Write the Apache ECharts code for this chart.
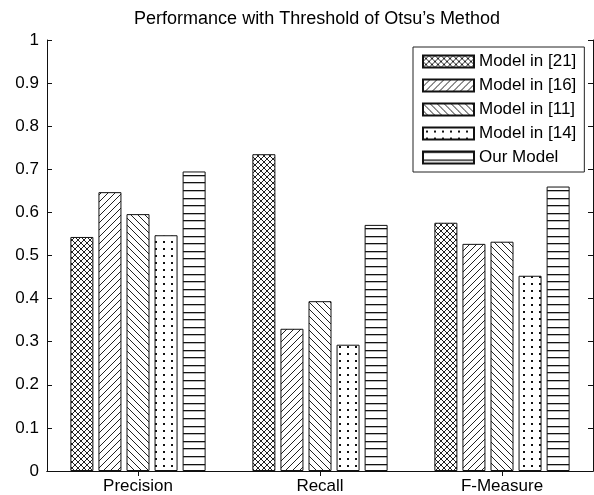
<!DOCTYPE html>
<html>
<head>
<meta charset="utf-8">
<script src="https://cdn.jsdelivr.net/npm/echarts@6/dist/echarts.min.js"></script>
<style>
html,body{margin:0;padding:0;background:#fff;}
#chart{width:594px;height:495px;}
</style>
</head>
<body>
<div id="chart"></div>
<script>
const categories = ['Precision', 'Recall', 'F-Measure'];
const seriesNames = ['Model in [21]', 'Model in [16]', 'Model in [11]', 'Model in [14]', 'Our Model'];
const model21 = [0.543, 0.735, 0.576];
const model16 = [0.647, 0.330, 0.527];
const model11 = [0.596, 0.394, 0.532];
const model14 = [0.547, 0.293, 0.453];
const ourModel = [0.695, 0.571, 0.660];
const yTicks = [0, 0.1, 0.2, 0.3, 0.4, 0.5, 0.6, 0.7, 0.8, 0.9, 1];

const FONT = 'Liberation Sans, Arial, Helvetica, sans-serif';

function pattern(type) {
  const c = document.createElement('canvas');
  let w = 8, h = 8;
  if (type === 'cross') { w = 6; h = 6; }
  if (type === 'fwd' || type === 'back') { w = 7; h = 7; }
  if (type === 'dots') { w = 8; h = 7; }
  if (type === 'horiz') { w = 4; h = 38; }
  c.width = w; c.height = h;
  const g = c.getContext('2d');
  g.fillStyle = '#fff';
  g.fillRect(0, 0, w, h);
  g.strokeStyle = '#222';
  g.fillStyle = '#111';
  g.lineWidth = 1;
  if (type === 'cross') {
    g.beginPath();
    g.moveTo(-1, -1); g.lineTo(w + 1, h + 1);
    g.moveTo(-1, h + 1); g.lineTo(w + 1, -1);
    g.stroke();
  } else if (type === 'fwd') {
    g.beginPath();
    g.moveTo(-1, h + 1); g.lineTo(w + 1, -1);
    g.moveTo(-1, 1); g.lineTo(1, -1);
    g.moveTo(w - 1, h + 1); g.lineTo(w + 1, h - 1);
    g.stroke();
  } else if (type === 'back') {
    g.beginPath();
    g.moveTo(-1, -1); g.lineTo(w + 1, h + 1);
    g.moveTo(w - 1, -1); g.lineTo(w + 1, 1);
    g.moveTo(-1, h - 1); g.lineTo(1, h + 1);
    g.stroke();
  } else if (type === 'dots') {
    g.fillRect(3, 3, 2, 2);
  } else if (type === 'horiz') {
    [0, 8, 15, 23, 30].forEach(function (y) { g.fillRect(0, y, w, 1.3); });
  }
  return { image: c, repeat: 'repeat' };
}

const patterns = [pattern('cross'), pattern('fwd'), pattern('back'), pattern('dots'), pattern('horiz')];
const dataSets = [model21, model16, model11, model14, ourModel];

const chart = echarts.init(document.getElementById('chart'), null, { renderer: 'canvas' });

const series = dataSets.map(function (d, i) {
  return {
    name: seriesNames[i],
    type: 'bar',
    data: d,
    barWidth: 23,
    barGap: '22%',
    itemStyle: { color: patterns[i], borderColor: '#111', borderWidth: 1 },
    emphasis: { disabled: true }
  };
});

chart.setOption({
  animation: false,
  backgroundColor: '#fff',
  title: {
    text: 'Performance with Threshold of Otsu\u2019s Method',
    left: 312, top: 5, textAlign: 'center',
    textStyle: { fontFamily: FONT, fontSize: 18, fontWeight: 'normal', color: '#000' }
  },
  legend: {
    orient: 'vertical',
    left: 413, top: 47,
    padding: [6, 8, 6, 9],
    itemWidth: 51, itemHeight: 12, itemGap: 7,
    icon: 'rect',
    borderColor: '#222', borderWidth: 1,
    backgroundColor: '#fff',
    selectedMode: false,
    textStyle: { fontFamily: FONT, fontSize: 17, color: '#000', lineHeight: 14 },
    data: seriesNames
  },
  grid: { left: 47, right: 1, top: 40, bottom: 24, containLabel: false },
  xAxis: [{
    type: 'category', data: categories, position: 'bottom',
    axisLine: { lineStyle: { color: '#111', width: 1 } },
    axisTick: { show: true, alignWithLabel: true, inside: true, length: 5, lineStyle: { color: '#111' } },
    axisLabel: { fontFamily: FONT, fontSize: 17, color: '#000', margin: 7 }
  }, {
    type: 'category', data: categories, position: 'top',
    axisLine: { show: true, lineStyle: { color: '#111', width: 1 } },
    axisTick: { show: true, alignWithLabel: true, inside: true, length: 5, lineStyle: { color: '#111' } },
    axisLabel: { show: false }
  }],
  yAxis: [{
    type: 'value', min: yTicks[0], max: yTicks[yTicks.length - 1], interval: 0.1, position: 'left',
    axisLine: { show: true, lineStyle: { color: '#111', width: 1 } },
    axisTick: { show: true, inside: true, length: 5, lineStyle: { color: '#111' } },
    splitLine: { show: false },
    axisLabel: { fontFamily: FONT, fontSize: 17, color: '#000', margin: 8,
      formatter: function (v) { return String(Math.round(v * 10) / 10); } }
  }, {
    type: 'value', min: yTicks[0], max: yTicks[yTicks.length - 1], interval: 0.1, position: 'right',
    axisLine: { show: true, lineStyle: { color: '#111', width: 1 } },
    axisTick: { show: true, inside: true, length: 5, lineStyle: { color: '#111' } },
    splitLine: { show: false },
    axisLabel: { show: false }
  }],
  series: series
});
</script>
</body>
</html>
